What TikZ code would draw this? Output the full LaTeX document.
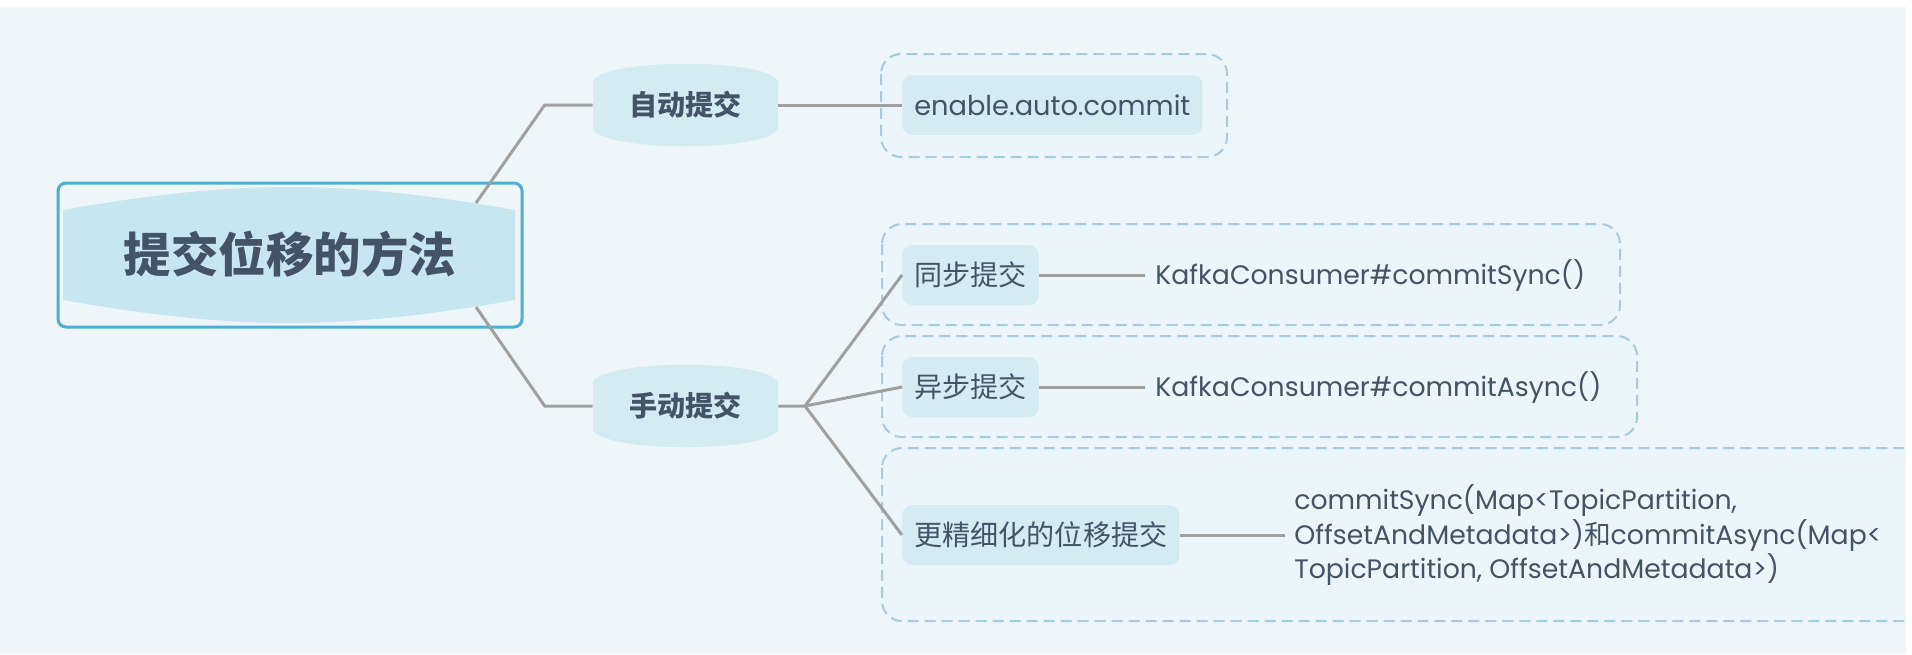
\documentclass[tikz,border=0pt]{standalone}
\usepackage{fontspec}
\setmainfont{Poppins}
\newfontfamily\cjk{Noto Sans CJK SC}
\begin{document}
\begin{tikzpicture}[x=0.02cm, y=-0.02cm,
        link/.style={draw=linegrey, line width=0.06cm},
        group/.style={draw=dashblue, fill=groupfill, line width=0.04cm, rounded corners=0.4cm, dash pattern=on 0.22cm off 0.12cm},
        topic/.style={font=\cjk\bfseries\fontsize{16}{19}\selectfont, text=textslate, minimum width=3.7cm, minimum height=1.64cm},
        sub/.style={fill=subfill, rounded corners=0.2cm, anchor=west, inner xsep=0.24cm, minimum height=1.2cm, text=textslate, font=\fontsize{16}{19}\selectfont},
        leaf/.style={anchor=west, inner xsep=0.2cm, text=textslate, font=\fontsize{15.2}{19.9}\selectfont, align=left}]
        \definecolor{bgblue}{RGB}{238,246,249}
        \definecolor{rootline}{RGB}{80,174,210}
        \definecolor{rootfill}{RGB}{200,230,239}
        \definecolor{topicfill}{RGB}{213,235,242}
        \definecolor{subfill}{RGB}{214,234,242}
        \definecolor{groupfill}{RGB}{236,245,250}
        \definecolor{dashblue}{RGB}{168,204,224}
        \definecolor{linegrey}{RGB}{160,160,160}
        \definecolor{textslate}{RGB}{69,83,102}

        \useasboundingbox (0,0) rectangle (1912,654);
        \fill[white] (0,0) rectangle (1912,654);
        \fill[bgblue] (0,7) rectangle (1906,654);

        % dashed groups
        \draw[group] (881,54) rectangle (1227,157);
        \draw[group] (882,224) rectangle (1620,325);
        \draw[group] (882,336) rectangle (1637,437);
        \draw[group] (882,448) rectangle (1940,621);

        % root
        \draw[rootline, line width=0.06cm, rounded corners=0.16cm] (58,183) rectangle (522,327);
        \fill[rootfill] (63,210) to[bend left=10] (515,210) -- (515,300) to[bend left=10] (63,300) -- cycle;
        \node[font=\cjk\bfseries\fontsize{27}{32}\selectfont, text=textslate] (root) at (290,254) {提交位移的方法};
        \coordinate (rootup) at (476,203);
        \coordinate (rootdown) at (476,307);

        % first level
        \fill[topicfill] (593,81) .. controls (605,58) and (766,58) .. (778,81) -- (778,129) .. controls (766,152) and (605,152) .. (593,129) -- cycle;
        \node[topic] (auto) at (685.5,105) {自动提交};
        \fill[topicfill] (593,382) .. controls (605,359) and (766,359) .. (778,382) -- (778,430) .. controls (766,453) and (605,453) .. (593,430) -- cycle;
        \node[topic] (manual) at (685.5,406) {手动提交};

        % second level
        \node[sub, font=\fontsize{15.5}{19}\selectfont] (enable) at (902,105) {enable.auto.commit};
        \node[sub] (sync) at (902,275) {\cjk 同步提交};
        \node[sub] (async) at (902,387) {\cjk 异步提交};
        \node[sub] (fine) at (902,535) {\cjk 更精细化的位移提交};

        % leaves
        \node[leaf] (syncleaf) at (1145,275) {KafkaConsumer\#commitSync()};
        \node[leaf] (asyncleaf) at (1145,387) {KafkaConsumer\#commitAsync()};
        \node[leaf, inner xsep=0.18cm] (fineleaf) at (1285,535) {commitSync(Map<TopicPartition,\\OffsetAndMetadata>){\cjk 和}commitAsync(Map<\\TopicPartition, OffsetAndMetadata>)};

        % links
        \draw[link] (rootup) -- ([xshift=-0.96cm]auto.west) -- (auto.west);
        \draw[link] (rootdown) -- ([xshift=-0.96cm]manual.west) -- (manual.west);
        \draw[link] (auto.east) -- (enable.west);
        \coordinate (fork) at (805,406);
        \draw[link] (manual.east) -- (fork) -- (sync.west);
        \draw[link] (fork) -- (async.west);
        \draw[link] (fork) -- (fine.west);
        \draw[link] (sync.east) -- (syncleaf.west);
        \draw[link] (async.east) -- (asyncleaf.west);
        \draw[link] (fine.east) -- (fineleaf.west);

        \fill[white] (1906,0) rectangle (1912,654);
    \end{tikzpicture}
\end{document}
